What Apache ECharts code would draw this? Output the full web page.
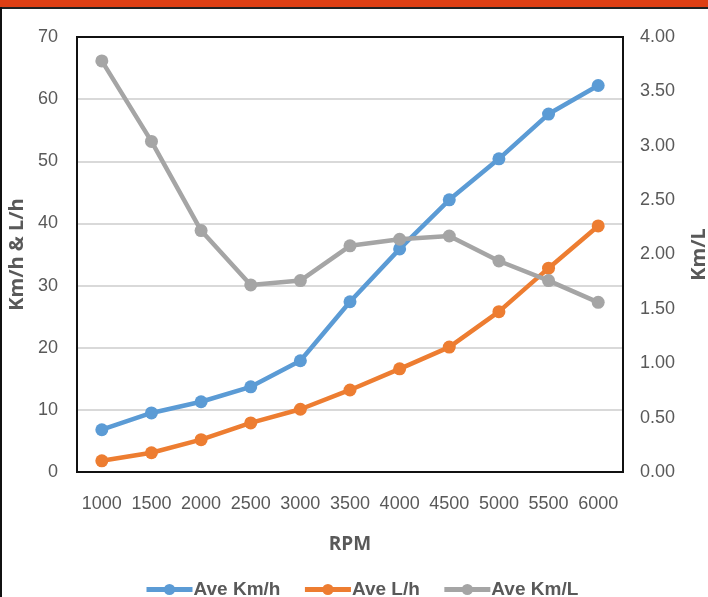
<!DOCTYPE html>
<html><head><meta charset="utf-8">
<style>html,body{margin:0;padding:0;background:#fff}#c{width:708px;height:597px}</style>
<script src="https://cdn.jsdelivr.net/npm/echarts@6/dist/echarts.min.js"></script>
</head><body><div id="c"></div>
<script>
const rpm = ['1000','1500','2000','2500','3000','3500','4000','4500','5000','5500','6000'];
const aveKmh = [6.8, 9.5, 11.3, 13.7, 17.9, 27.4, 35.9, 43.8, 50.4, 57.6, 62.2];
const aveLh = [1.8, 3.1, 5.2, 7.9, 10.1, 13.2, 16.6, 20.1, 25.8, 32.8, 39.6];
const aveKmL = [3.78, 3.04, 2.22, 1.72, 1.76, 2.08, 2.14, 2.17, 1.94, 1.76, 1.56];

const FONT = '"Liberation Sans", Arial, sans-serif';
const TFONT = '"Open Sans", sans-serif';
const chart = echarts.init(document.getElementById('c'), null, {renderer: 'canvas'});
const ser = (name, data, color, yi) => ({
  name, type: 'line', data, yAxisIndex: yi, symbol: 'circle', symbolSize: 13,
  lineStyle: {width: 4.5, color}, itemStyle: {color}, z: 3
});
chart.setOption({
  animation: false,
  textStyle: {fontFamily: FONT},
  grid: {left: 77, right: 85, top: 37, bottom: 125, outerBoundsMode: 'none', containLabel: false},
  xAxis: {
    type: 'category', data: rpm, boundaryGap: true,
    name: 'RPM', nameLocation: 'middle', nameGap: 63,
    nameTextStyle: {fontSize: 19, fontWeight: 'bold', color: '#595959', fontFamily: TFONT},
    axisLine: {show: false}, axisTick: {show: false},
    axisLabel: {interval: 0, fontSize: 18, color: '#595959', margin: 23, fontFamily: FONT}
  },
  yAxis: [{
    type: 'value', min: 0, max: 70, interval: 10,
    name: 'Km/h & L/h', nameLocation: 'middle', nameGap: 49, nameRotate: 90,
    nameTextStyle: {fontSize: 20, fontWeight: 'bold', color: '#595959', fontFamily: TFONT},
    axisLine: {show: false}, axisTick: {show: false},
    axisLabel: {fontSize: 18, color: '#595959', margin: 19, fontFamily: FONT},
    splitLine: {lineStyle: {color: '#d9d9d9', width: 2}}
  }, {
    type: 'value', min: 0, max: 4, interval: 0.5,
    name: 'Km/L', nameLocation: 'middle', nameGap: 66, nameRotate: 90,
    nameTextStyle: {fontSize: 20, fontWeight: 'bold', color: '#595959', fontFamily: TFONT},
    axisLine: {show: false}, axisTick: {show: false},
    axisLabel: {fontSize: 18, color: '#595959', margin: 17, fontFamily: FONT, formatter: v => v.toFixed(2)},
    splitLine: {show: false}
  }],
  legend: {
    top: 575, left: 139, itemWidth: 46, itemHeight: 14, itemGap: 22,
    lineStyle: {width: 5},
    textStyle: {fontSize: 19, fontWeight: 'bold', color: '#595959', fontFamily: FONT, padding: [0, 0, 0, -4]},
    data: ['Ave Km/h', 'Ave L/h', 'Ave Km/L']
  },
  series: [
    ser('Ave Km/h', aveKmh, '#5B9BD5', 0),
    ser('Ave L/h', aveLh, '#ED7D31', 0),
    ser('Ave Km/L', aveKmL, '#A5A5A5', 1)
  ],
  graphic: [
    {type: 'rect', shape: {x: 77, y: 37, width: 546, height: 435}, style: {fill: null, stroke: '#111', lineWidth: 2}, z: 1, silent: true},
    {type: 'rect', shape: {x: 0, y: 0, width: 708, height: 7}, style: {fill: '#DE3F14'}, silent: true},
    {type: 'rect', shape: {x: 0, y: 7, width: 708, height: 2}, style: {fill: '#222'}, silent: true},
    {type: 'rect', shape: {x: 0, y: 7, width: 2, height: 590}, style: {fill: '#111'}, silent: true}
  ]
});
</script></body></html>
